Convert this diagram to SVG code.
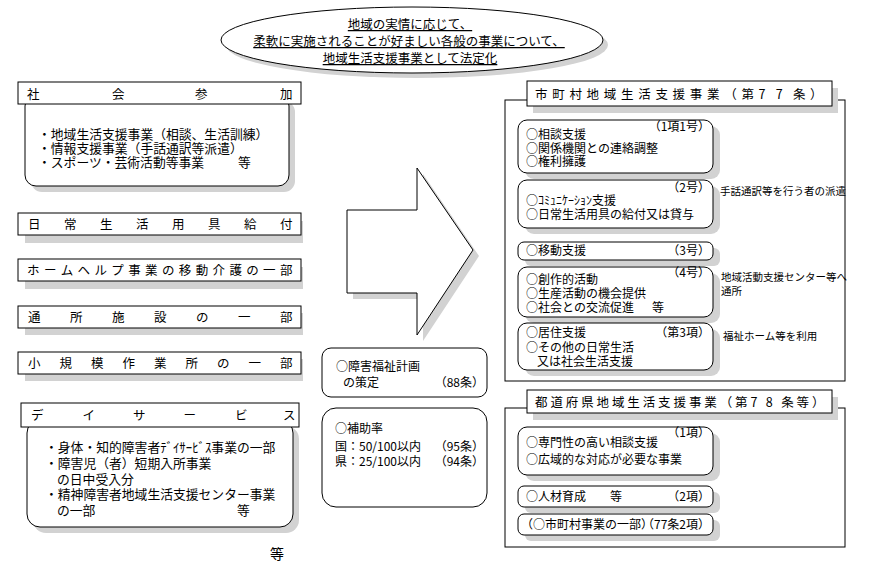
<svg xmlns="http://www.w3.org/2000/svg" width="873" height="574" viewBox="0 0 873 574">
<defs>
<style>
text{font-family:"Noto Sans CJK JP","Noto Sans CJK SC",sans-serif;fill:#000}
.t{font-size:12px}
.m{font-size:12.8px}
.s{font-size:10.5px}
.h{font-size:12.5px}
.e{font-size:12.5px;text-anchor:middle;text-decoration:underline}
.r{text-anchor:end}
.box{fill:#fff;stroke:#000;stroke-width:1}
.sh{fill:#d2d2d2;stroke:none}
</style>
</defs>
<rect width="873" height="574" fill="#fff"/>

<g id="title">
<ellipse cx="417" cy="45" rx="191" ry="33" class="sh"/>
<ellipse cx="412" cy="40" rx="191" ry="33" class="box"/>
<text class="e" x="410" y="29">地域の実情に応じて、</text>
<text class="e" x="409" y="46">柔軟に実施されることが好ましい各般の事業について、</text>
<text class="e" x="410" y="63">地域生活支援事業として法定化</text>
</g>

<g id="shakai-sanka">
<rect x="31" y="101" width="264" height="91" rx="11" class="sh"/>
<rect x="25" y="95" width="264" height="91" rx="11" class="box"/>
<rect x="18" y="82" width="283" height="22" class="box"/>
<text class="h" x="27 112 195 280" y="99">社会参加</text>
<text class="m" x="38" y="139">・地域生活支援事業（相談、生活訓練）</text>
<text class="m" x="38" y="153">・情報支援事業（手話通訳等派遣）</text>
<text class="m" x="38" y="167">・スポーツ・芸術活動等事業</text>
<text class="m" x="238" y="167">等</text>
</g>

<g id="nichijo">
<rect x="25" y="221" width="278" height="22" class="sh"/>
<rect x="18" y="213" width="283" height="22" class="box"/>
<text class="h" x="28 64 100 136 172 208 244 280" y="229">日常生活用具給付</text>
</g>

<g id="homehelp">
<rect x="25" y="267" width="278" height="22" class="sh"/>
<rect x="18" y="259" width="283" height="22" class="box"/>
<text class="h" x="27 43.9 60.7 77.6 94.5 111.3 128.2 145.1 161.9 178.8 195.7 212.5 229.4 246.3 263.1 280" y="275">ホームヘルプ事業の移動介護の一部</text>
</g>

<g id="tsusho">
<rect x="25" y="313" width="278" height="22" class="sh"/>
<rect x="18" y="306" width="283" height="22" class="box"/>
<text class="h" x="28 70 112 154 196 238 280" y="322">通所施設の一部</text>
</g>

<g id="shokibo">
<rect x="25" y="359" width="278" height="22" class="sh"/>
<rect x="18" y="352" width="283" height="22" class="box"/>
<text class="h" x="28 59.5 91 122.5 154 185.5 217 248.5 280" y="368">小規模作業所の一部</text>
</g>

<g id="dayservice">
<rect x="33" y="426" width="266" height="107" rx="13" class="sh"/>
<rect x="27" y="420" width="266" height="107" rx="13" class="box"/>
<rect x="21" y="403" width="278" height="24" class="box"/>
<text class="h" x="31 82.5 133 183.5 235 283" y="420">デイサービス</text>
<text class="m" x="45" y="452">・身体・知的障害者ﾃﾞｲｻｰﾋﾞｽ事業の一部</text>
<text class="m" x="45" y="468">・障害児（者）短期入所事業</text>
<text class="m" x="57" y="484">の日中受入分</text>
<text class="m" x="45" y="499">・精神障害者地域生活支援センター事業</text>
<text class="m" x="57" y="515">の一部</text>
<text class="m" x="237" y="515">等</text>
</g>

<g id="etc">
<text x="270" y="559" style="font-size:14px">等</text>
</g>

<g id="arrow">
<polygon points="353,216 423,216 423,174 479,256 423,341 423,299 353,299" class="sh"/>
<polygon points="347,210 417,210 417,168 473,250 417,335 417,293 347,293" class="box"/>
</g>

<g id="keikaku">
<rect x="322" y="348" width="165" height="49" rx="9" class="box"/>
<text class="t" x="336" y="371">○障害福祉計画</text>
<text class="t" x="343" y="387">の策定</text>
<text class="t r" x="484" y="387">（88条）</text>
</g>

<g id="hojoritsu">
<rect x="322" y="408" width="165" height="99" rx="14" class="box"/>
<text class="t" x="335" y="433">○補助率</text>
<text class="t" x="335" y="451">国：50/100以内</text>
<text class="t r" x="484" y="451">（95条）</text>
<text class="t" x="335" y="466">県：25/100以内</text>
<text class="t r" x="484" y="466">（94条）</text>
</g>

<g id="shichoson">
<rect x="505" y="100" width="340" height="281" class="box"/>
<rect x="533" y="88" width="305" height="25" class="sh"/>
<rect x="527" y="81" width="305" height="25" class="box"/>
<text class="h" x="535 552.2 569.4 586.6 603.8 621 638.2 655.4 672.6 689.8 707 724.2 741.4 758.6 775.8 793 810" y="99">市町村地域生活支援事業（第77条）</text>

<g id="m1">
<rect x="525" y="126" width="195" height="53" rx="9" class="sh"/>
<rect x="518" y="120" width="195" height="53" rx="9" class="box"/>
<text class="t r" x="710" y="131">（1項1号）</text>
<text class="t" x="526" y="139">○相談支援</text>
<text class="t" x="526" y="153">○関係機関との連絡調整</text>
<text class="t" x="526" y="166">○権利擁護</text>
</g>
<g id="m2">
<rect x="525" y="186" width="195" height="48" rx="9" class="sh"/>
<rect x="518" y="180" width="195" height="48" rx="9" class="box"/>
<text class="t r" x="710" y="192">（2号）</text>
<text class="t" x="526" y="205">○ｺﾐｭﾆｹｰｼｮﾝ支援</text>
<text class="t" x="526" y="219">○日常生活用具の給付又は貸与</text>
<text class="s" x="720" y="195">手話通訳等を行う者の派遣</text>
</g>
<g id="m3">
<rect x="525" y="248" width="195" height="18" rx="6" class="sh"/>
<rect x="518" y="242" width="195" height="18" rx="6" class="box"/>
<text class="t" x="526" y="255">○移動支援</text>
<text class="t r" x="710" y="255">（3号）</text>
</g>
<g id="m4">
<rect x="525" y="273" width="195" height="50" rx="9" class="sh"/>
<rect x="518" y="267" width="195" height="50" rx="9" class="box"/>
<text class="t r" x="710" y="277">（4号）</text>
<text class="t" x="526" y="284">○創作的活動</text>
<text class="t" x="526" y="298">○生産活動の機会提供</text>
<text class="t" x="526" y="312">○社会との交流促進</text>
<text class="t" x="652" y="312">等</text>
<text class="s" x="721" y="281">地域活動支援センター等へ</text>
<text class="s" x="721" y="295">通所</text>
</g>
<g id="m5">
<rect x="525" y="329" width="195" height="47" rx="9" class="sh"/>
<rect x="518" y="323" width="195" height="47" rx="9" class="box"/>
<text class="t" x="526" y="337">○居住支援</text>
<text class="t r" x="710" y="337">（第3項）</text>
<text class="t" x="526" y="352">○その他の日常生活</text>
<text class="t" x="537" y="366">又は社会生活支援</text>
<text class="s" x="723" y="340">福祉ホーム等を利用</text>
</g>
</g>

<g id="todofuken">
<rect x="505" y="408" width="340" height="139" class="box"/>
<rect x="533" y="397" width="305" height="23" class="sh"/>
<rect x="527" y="390" width="305" height="23" class="box"/>
<text class="h" x="535 550.4 565.8 581.2 596.6 611.9 627.3 642.7 658.1 673.5 688.9 704.3 719.7 735.1 750.4 765.8 781.2 796.6 812" y="407">都道府県地域生活支援事業（第78条等）</text>

<g id="p1">
<rect x="525" y="433" width="195" height="48" rx="9" class="sh"/>
<rect x="518" y="427" width="195" height="48" rx="9" class="box"/>
<text class="t r" x="710" y="437">（1項）</text>
<text class="t" x="526" y="447">○専門性の高い相談支援</text>
<text class="t" x="526" y="464">○広域的な対応が必要な事業</text>
</g>
<g id="p2">
<rect x="525" y="492" width="195" height="21" rx="6" class="sh"/>
<rect x="518" y="486" width="195" height="21" rx="6" class="box"/>
<text class="t" x="526" y="501">○人材育成</text>
<text class="t" x="610" y="501">等</text>
<text class="t r" x="710" y="501">（2項）</text>
</g>
<g id="p3">
<rect x="525" y="520" width="195" height="21" rx="6" class="sh"/>
<rect x="518" y="514" width="195" height="21" rx="6" class="box"/>
<text class="t" x="521" y="529">（○市町村事業の一部）</text>
<text class="t r" x="710" y="529">（77条2項）</text>
</g>
</g>

<g id="connectors"></g>
</svg>
